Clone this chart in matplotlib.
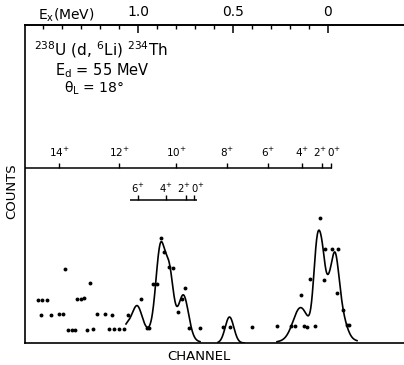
import numpy as np
import matplotlib
matplotlib.use("Agg")
import matplotlib.pyplot as plt

plt.rcParams['font.family'] = ['DejaVu Sans']
plt.rcParams['mathtext.default'] = 'regular'

# ---- data (channel, counts) ----
chan = [38.3, 42.3, 47, 41, 50.7, 59.3, 62.7, 64.7, 68.3, 71.7, 75,
        77.3, 80.7, 84, 90, 87.3, 93.3, 97, 105, 111.7, 109.3, 114.3, 119, 123.7,
        127.5, 140.7, 146.7, 149.3, 153.3, 157.3, 161, 164.3, 169, 173.3,
        178.3, 181.7, 185, 189.3, 200,
        223.3, 230, 252.3, 277.3,
        291, 295, 303.5, 306.7, 315, 300.5, 310, 320, 325, 331.7, 338.3,
        324, 337.3, 342.7, 346.7, 349]
counts = [42.7, 42.7, 42.7, 28, 28, 28.7, 28.7, 74, 12.7, 12.7, 12.7,
          44, 44, 44.7, 59.7, 13, 14, 28.7, 28.7, 28, 14, 14, 14, 14,
          28, 44, 14.7, 14.7, 59, 58.7, 105.3, 90.7, 76.3, 75.3,
          31.3, 44, 54.7, 14.7, 15.3,
          15.7, 15.7, 16.3, 17.3,
          17, 17, 17, 16.5, 17.5, 48, 63.7, 124.7, 93.7, 93.7, 93.7,
          63, 49.7, 33, 18, 18]

# fitted peak components (centre, height, width) for each group
fit_left_c = [160, 126, 137, 160.5, 169.5, 183.5]
fit_left_h = [14, 14, 30, 82, 55, 42]
fit_left_w = [18, 5, 5, 4.5, 4, 5]
fit_left_range = (126, 200)

fit_mid_c = [229.5]
fit_mid_h = [26]
fit_mid_w = [4.3]
fit_mid_range = (218, 244)

fit_right_c = [320, 300, 316.8, 322.5, 328.5, 334.5, 342]
fit_right_h = [12, 28, 74, 66, 14, 75, 18]
fit_right_w = [20, 7, 3.4, 3.5, 2.5, 4.3, 5]
fit_right_range = (277, 357)

# excitation energy scale (top)
ex_major = [1.0, 0.5, 0.0]
ex_major_labels = ["1.0", "0.5", "0"]
ex_minor = [1.5, 1.4, 1.3, 1.2, 1.1, 0.9, 0.8, 0.7, 0.6, 0.4, 0.3, 0.2, 0.1]

# rotational band markers
band1_labels = ["14", "12", "10", "8", "6", "4", "2", "0"]
band1_pos = [59, 119, 176, 227, 268, 302, 322, 331]
band2_labels = ["6", "4", "2", "0"]
band2_pos = [138, 166, 186, 194]

# label nudges (layout only)
band1_nudge = [0, 0, 0, 0, 0, 0, -2, 3]
band2_nudge = [0, 0, -2, 4]


def ch_to_E(x):
    return (328.0 - np.asarray(x, dtype=float)) / 190.0


def E_to_ch(e):
    return 328.0 - 190.0 * np.asarray(e, dtype=float)


def gsum(x, c, h, w):
    y = np.zeros_like(x)
    for ci, hi, wi in zip(c, h, w):
        y += hi * np.exp(-0.5 * ((x - ci) / wi) ** 2)
    return y


W, H = 404, 365
fig = plt.figure(figsize=(W / 100, H / 100), dpi=100)
ax = fig.add_axes([25 / W, 22 / H, (W - 25) / W, 318 / H])
ax.set_xlim(25, 404)
ax.set_ylim(0, 318)
ax.spines['right'].set_visible(False)
for s in ['left', 'top', 'bottom']:
    ax.spines[s].set_linewidth(1.2)
ax.set_xticks([])
ax.set_yticks([])

# data points
ax.plot(chan, counts, 'o', color='black', ms=2.8, mew=0, clip_on=False)

# fitted curves
for c, h, w, (a, b) in [(fit_left_c, fit_left_h, fit_left_w, fit_left_range),
                        (fit_mid_c, fit_mid_h, fit_mid_w, fit_mid_range),
                        (fit_right_c, fit_right_h, fit_right_w, fit_right_range)]:
    xx = np.linspace(a, b, 300)
    ax.plot(xx, gsum(xx, c, h, w), color='black', lw=1.2)

# top excitation energy axis
sec = ax.secondary_xaxis('top', functions=(ch_to_E, E_to_ch))
sec.set_xticks(ex_major)
sec.set_xticklabels(ex_major_labels)
sec.set_xticks(ex_minor, minor=True)
sec.tick_params(which='major', direction='in', length=6, width=1.1, pad=4, labelsize=10)
sec.tick_params(which='minor', direction='in', length=3, width=1.0)
sec.spines['top'].set_linewidth(1.2)
ax.text(38, 328, r"$E_x$(MeV)", fontsize=10, ha='left', va='center', clip_on=False)

# rotational band line 1
ax.hlines(175, 25, 332, color='black', lw=1.1)
ax.vlines(band1_pos, 175, 180, color='black', lw=1.0)
for p, n, l in zip(band1_pos, band1_nudge, band1_labels):
    ax.text(p + n, 191, r"$%s^{+}$" % l, fontsize=7.5, ha='center', va='center')

# rotational band line 2
ax.hlines(143, 130, 197, color='black', lw=1.1)
ax.vlines(band2_pos, 143, 148, color='black', lw=1.0)
for p, n, l in zip(band2_pos, band2_nudge, band2_labels):
    ax.text(p + n, 155, r"$%s^{+}$" % l, fontsize=7.2, ha='center', va='center')

# annotations
ax.text(34, 293, r"$^{238}$U (d, $^{6}$Li) $^{234}$Th", fontsize=11, ha='left', va='center')
ax.text(55, 272, r"$E_d$ = 55 MeV", fontsize=10.5, ha='left', va='center')
ax.text(64, 255, r"$\theta_L$ = 18°", fontsize=10, ha='left', va='center')

fig.text(12 / W, 1 - 191 / H, "COUNTS", rotation=90, fontsize=9.5, ha='center', va='center')
fig.text(199 / W, 1 - 357 / H, "CHANNEL", fontsize=9.5, ha='center', va='center')

fig.savefig("out.png", dpi=100)
